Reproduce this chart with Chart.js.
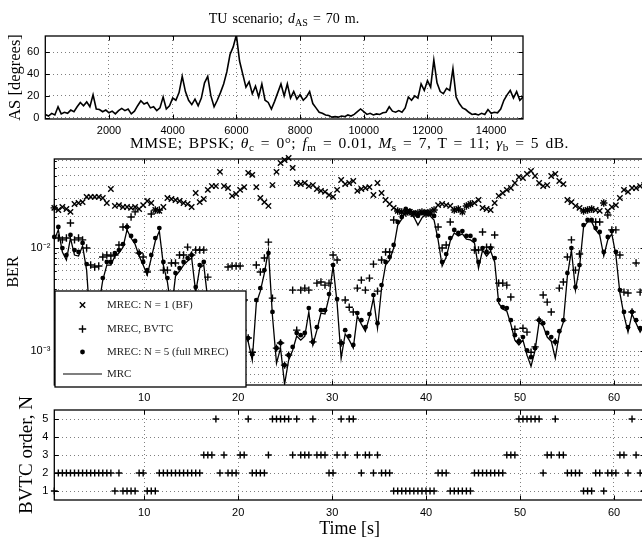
<!DOCTYPE html>
<html><head><meta charset="utf-8">
<script src="https://cdn.jsdelivr.net/npm/chart.js@4.4.1/dist/chart.umd.min.js"></script>
<style>
html,body{margin:0;padding:0;width:642px;height:540px;overflow:hidden;background:#fff;}
canvas{position:absolute;left:0;}
.ttl{position:absolute;text-align:center;font-family:'Liberation Serif',serif;color:#000;white-space:nowrap;}
.ttl .s{font-size:0.72em;position:relative;top:0.25em;}
</style></head><body>
<canvas id="cA" width="560" height="140" style="top:0"></canvas>
<canvas id="cB" width="700" height="270" style="top:140px"></canvas>
<canvas id="cC" width="700" height="160" style="top:380px"></canvas>
<div class="ttl" style="left:45px;width:478px;top:11px;font-size:14px;line-height:16px;word-spacing:1.5px;">TU scenario; <i>d</i><span class="s">AS</span> = 70 m.</div>
<div class="ttl" style="left:54px;width:591px;top:134px;font-size:15.5px;line-height:17px;word-spacing:2px;letter-spacing:0.5px;">MMSE; BPSK; <i>θ</i><span class="s">c</span> = 0°; <i>f</i><span class="s">m</span> = 0.01, <i>M</i><span class="s">s</span> = 7, T = 11; <i>γ</i><span class="s">b</span> = 5 dB.</div>
<script>
// ---------- DATA ----------
// top panel: angular spread [deg] vs sample index
const sampleIndex = [
0,100,200,300,400,500,600,700,800,900,
1000,1100,1200,1300,1400,1500,1600,1700,1800,1900,
2000,2100,2200,2300,2400,2500,2600,2700,2800,2900,
3000,3100,3200,3300,3400,3500,3600,3700,3800,3900,
4000,4100,4200,4300,4400,4500,4600,4700,4800,4900,
5000,5100,5200,5300,5400,5500,5600,5700,5800,5900,
6000,6100,6200,6300,6400,6500,6600,6700,6800,6900,
7000,7100,7200,7300,7400,7500,7600,7700,7800,7900,
8000,8100,8200,8300,8400,8500,8600,8700,8800,8900,
9000,9100,9200,9300,9400,9500,9600,9700,9800,9900,
10000,10100,10200,10300,10400,10500,10600,10700,10800,10900,
11000,11100,11200,11300,11400,11500,11600,11700,11800,11900,
12000,12100,12200,12300,12400,12500,12600,12700,12800,12900,
13000,13100,13200,13300,13400,13500,13600,13700,13800,13900,
14000,14100,14200,14300,14400,14500,14600,14700,14800,14900,15000];
const angularSpread = [
3,1.5,4,2.5,10,3.5,5,4,7,5.5,
10,14,11,14.5,10,21,8,7.5,5.5,7,
4.5,6,3.5,6.5,8.5,6.5,8,3.5,6,11,
15.5,12.5,14,9,10,6.5,9,19,8,11,
18,16,23,38,24,16,12,17,11,18,
32,38,20,10,16,23,31,42,58,65,
76,52,40,28,33,22,29,19,31,16,
14,8,15,23,31,20,31,18,24,17,
21,16,19,24,13,9,5,4,2.5,2,
0.5,1,0.5,1.5,1,2.5,1.5,3,5.5,8,
5.5,3,4,2.5,3.5,3,4.5,5,10,6,
5,6.5,5,9,19,16,20,18,31,25,
34,28,53,32,24,22,27,25,45,19,
13,9,7.5,5,3,3.5,2.5,4,3,7.5,
4,5,4.5,8,16,21,25,18,24,16,19];
const asXTicks = [2000,4000,6000,8000,10000,12000,14000];
const asYTicks = [0,20,40,60];

// middle / bottom panels: time [s]
const timeSec = [
0.43,0.86,1.29,1.72,2.15,2.58,3.01,3.44,3.87,4.30,
4.73,5.16,5.59,6.02,6.45,6.88,7.31,7.74,8.17,8.60,
9.03,9.46,9.89,10.32,10.75,11.18,11.61,12.04,12.47,12.90,
13.33,13.76,14.19,14.62,15.05,15.48,15.91,16.34,16.77,17.20,
17.63,18.06,18.49,18.92,19.35,19.78,20.21,20.64,21.07,21.50,
21.93,22.36,22.79,23.22,23.65,24.08,24.51,24.94,25.37,25.80,
26.23,26.66,27.09,27.52,27.95,28.38,28.81,29.24,29.67,30.10,
30.53,30.96,31.39,31.82,32.25,32.68,33.11,33.54,33.97,34.40,
34.83,35.26,35.69,36.12,36.55,36.98,37.41,37.84,38.27,38.70,
39.13,39.56,39.99,40.42,40.85,41.28,41.71,42.14,42.57,43.00,
43.43,43.86,44.29,44.72,45.15,45.58,46.01,46.44,46.87,47.30,
47.73,48.16,48.59,49.02,49.45,49.88,50.31,50.74,51.17,51.60,
52.03,52.46,52.89,53.32,53.75,54.18,54.61,55.04,55.47,55.90,
56.33,56.76,57.19,57.62,58.05,58.48,58.91,59.34,59.77,60.20,
60.63,61.06,61.49,61.92,62.35,62.78,63.21];
const berBF = [
0.0245,0.0234,0.0250,0.0239,0.0224,0.0267,0.0273,0.0279,0.0313,0.0313,
0.0313,0.0313,0.0306,0.0273,0.0374,0.0256,0.0261,0.0250,0.0250,0.0245,
0.0250,0.0239,0.0261,0.0286,0.0273,0.0234,0.0229,0.0250,0.0306,0.0299,
0.0292,0.0286,0.0273,0.0267,0.0250,0.0342,0.0279,0.0299,0.0366,0.0399,
0.0399,0.0547,0.0399,0.0382,0.0320,0.0334,0.0366,0.0390,0.0535,0.0512,
0.0390,0.0306,0.0279,0.0256,0.0408,0.0547,0.0667,0.0713,0.0746,0.0599,
0.0427,0.0417,0.0427,0.0399,0.0408,0.0374,0.0358,0.0350,0.0327,0.0313,
0.0366,0.0457,0.0417,0.0427,0.0447,0.0358,0.0374,0.0382,0.0390,0.0327,
0.0427,0.0342,0.0292,0.0267,0.0245,0.0229,0.0224,0.0219,0.0224,0.0214,
0.0219,0.0224,0.0214,0.0224,0.0234,0.0261,0.0267,0.0261,0.0256,0.0234,
0.0239,0.0224,0.0256,0.0267,0.0273,0.0292,0.0245,0.0239,0.0234,0.0273,
0.0320,0.0342,0.0366,0.0382,0.0427,0.0489,0.0478,0.0523,0.0559,0.0500,
0.0427,0.0399,0.0408,0.0500,0.0523,0.0447,0.0417,0.0292,0.0279,0.0256,
0.0245,0.0229,0.0234,0.0239,0.0234,0.0229,0.0273,0.0229,0.0250,0.0261,
0.0306,0.0366,0.0350,0.0382,0.0382,0.0399,0.0408];
const berBVTC = [
0.0245,0.0125,0.0120,0.0125,0.0175,0.0120,0.0125,0.0120,0.0100,0.00684,
0.00654,0.00669,0.00818,0.00855,0.00836,0.00855,0.0107,0.0160,0.0160,0.0200,
0.0224,0.00894,0.00818,0.00585,0.0214,0.0234,0.0234,0.00611,0.00611,0.00715,
0.00715,0.00855,0.00855,0.0102,0.00855,0.00956,0.00956,0.00956,0.00523,0.00313,
0.00115,0.00313,0.00313,0.00654,0.00669,0.00669,0.00669,0.00313,0.00134,0.000978,
0.00684,0.00585,0.0080,0.0114,0.00327,0.00107,0.0012,0.000732,0.000915,0.00391,
0.0016,0.00391,0.00409,0.00391,0.00123,0.00457,0.00468,0.00437,0.00457,0.00855,
0.00765,0.0012,0.00313,0.00267,0.0024,0.00409,0.00489,0.00391,0.00511,0.00699,
0.00382,0.00765,0.00915,0.00915,0.0187,0.0229,0.0224,0.0219,0.0224,0.0214,
0.0219,0.0224,0.0214,0.0224,0.0234,0.0160,0.0100,0.0107,0.0179,0.0234,
0.0239,0.0224,0.0256,0.0267,0.00956,0.00956,0.0143,0.0102,0.0102,0.0134,
0.00457,0.00457,0.00437,0.00335,0.00163,0.00125,0.00167,0.00153,0.000978,0.0011,
0.0020,0.0035,0.00299,0.0024,0.00123,0.00409,0.00468,0.00818,0.0120,0.00611,
0.00874,0.0229,0.0234,0.0239,0.0179,0.0179,0.0273,0.0209,0.0150,0.0150,
0.00855,0.00374,0.00366,0.0024,0.00715,0.00374,0.00391];
const berFull = [
0.0128,0.0160,0.0100,0.00855,0.0134,0.00956,0.00915,0.0112,0.00699,0.00313,
0.0016,0.00313,0.00511,0.00732,0.00732,0.00894,0.00956,0.0109,0.0160,0.0131,
0.0117,0.00894,0.00732,0.00611,0.00855,0.0125,0.0156,0.00732,0.00511,0.00313,
0.00572,0.00639,0.00732,0.0080,0.00855,0.00418,0.00684,0.00732,0.0035,0.0016,
0.00115,0.0016,0.0025,0.00313,0.0035,0.00313,0.0025,0.0016,0.00134,0.000935,
0.00313,0.00409,0.00611,0.00894,0.0024,0.00107,0.0012,0.000732,0.000915,0.0011,
0.0015,0.00143,0.0015,0.00262,0.00123,0.00171,0.0025,0.0025,0.00358,0.00684,
0.0032,0.0012,0.0016,0.0014,0.00115,0.00234,0.0020,0.00171,0.00229,0.0035,
0.00187,0.00437,0.00732,0.00818,0.0107,0.0179,0.0200,0.0239,0.0229,0.0219,
0.0205,0.0219,0.0224,0.0214,0.0205,0.0131,0.00732,0.00874,0.0125,0.0150,
0.0140,0.0146,0.0131,0.0131,0.0120,0.00732,0.0100,0.00915,0.0100,0.0080,
0.00313,0.00267,0.00262,0.0020,0.00143,0.00125,0.00137,0.00102,0.000874,0.00107,
0.0020,0.00187,0.0015,0.00137,0.00123,0.00156,0.0020,0.00572,0.0100,0.00418,
0.00684,0.0167,0.0187,0.0187,0.0156,0.0143,0.00915,0.0128,0.0146,0.00915,
0.00391,0.0024,0.00171,0.0024,0.0020,0.00167,0.0020];
const berMRC = [
0.0120,0.0150,0.00915,0.00765,0.0125,0.00855,0.00836,0.0105,0.00611,0.0016,
0.00128,0.00279,0.00489,0.00684,0.00684,0.00836,0.00894,0.0102,0.0150,0.0125,
0.0109,0.00836,0.00684,0.00547,0.0080,0.0117,0.0146,0.00684,0.00468,0.0025,
0.00535,0.00598,0.00684,0.00748,0.0080,0.00374,0.00639,0.00684,0.00313,0.0016,
0.00107,0.0015,0.00234,0.00292,0.00327,0.00292,0.00234,0.0015,0.00123,0.000818,
0.00292,0.00382,0.00572,0.00956,0.00219,0.000765,0.00107,0.000478,0.000818,0.00102,
0.0014,0.00128,0.0014,0.0024,0.00115,0.0016,0.00234,0.00229,0.00335,0.00669,
0.00292,0.000855,0.00147,0.00128,0.00107,0.00219,0.00183,0.00156,0.00214,0.00327,
0.00167,0.00409,0.00684,0.00765,0.0100,0.0167,0.0191,0.0224,0.0214,0.0200,
0.0167,0.0196,0.0214,0.0205,0.0187,0.0120,0.00669,0.00818,0.0117,0.0140,
0.0131,0.0137,0.0122,0.0120,0.0112,0.00639,0.00956,0.00836,0.00935,0.00732,
0.00292,0.00256,0.00245,0.00183,0.00128,0.00115,0.00128,0.000915,0.000715,0.00102,
0.00191,0.00175,0.00137,0.00125,0.000855,0.00147,0.00191,0.00535,0.00956,0.00391,
0.00654,0.0160,0.0179,0.0179,0.0150,0.0134,0.00836,0.0120,0.0137,0.00855,
0.00366,0.00224,0.00153,0.00229,0.00187,0.00153,0.00179];
const bvtcOrder = [
1,2,2,2,2,2,2,2,2,2,
2,2,2,2,2,1,2,1,1,1,
1,2,2,1,1,1,2,2,2,2,
2,2,2,2,2,2,2,3,3,3,
5,2,3,2,2,2,3,3,5,2,
2,2,2,3,5,5,5,5,5,3,
5,3,3,3,5,3,3,3,2,2,
3,5,3,5,5,3,2,3,3,2,
3,2,2,2,1,1,1,1,1,1,
1,1,1,1,1,2,2,2,1,1,
1,1,1,1,2,2,2,2,2,2,
2,2,3,3,3,5,5,5,5,5,
5,2,3,3,5,3,3,2,2,2,
2,1,1,1,2,2,1,2,2,2,
3,3,2,5,3,2,1];
const timeTicks = [10,20,30,40,50,60];
const berTicks = [5e-4,6e-4,7e-4,8e-4,9e-4,1e-3,2e-3,3e-3,4e-3,5e-3,6e-3,7e-3,8e-3,9e-3,1e-2,2e-2,3e-2,4e-2,5e-2,6e-2,7e-2];
const berLabels = {'0.001':'10\u207B\u00B3','0.01':'10\u207B\u00B2'};
const orderTicks = [1,2,3,4,5];
const legendLabels = ['MREC: N = 1 (BF)','MREC, BVTC','MREC: N = 5 (full MREC)','MRC'];

// ---------- STYLE ----------
const SANS = "'Liberation Sans', Arial, sans-serif";
const SERIF = "'Liberation Serif', 'Times New Roman', serif";
Chart.defaults.font.family = SANS;
Chart.defaults.font.size = 11;
Chart.defaults.color = '#000';
const gridColor = 'rgba(0,0,0,0.5)';

function setTicks(list){ return s => { s.ticks = list.map(v => ({value: v})); }; }
function isDecade(v){ const l = Math.log10(v); return Math.abs(l - Math.round(l)) < 1e-6; }

const framePlugin = {
  id: 'frame',
  afterDatasetsDraw(chart, args, opts) {
    const {ctx, chartArea: a} = chart;
    const xs = chart.scales.x, ys = chart.scales.y;
    ctx.save();
    ctx.strokeStyle = '#000';
    ctx.lineWidth = 1;
    ctx.beginPath();
    xs.ticks.forEach(t => {
      const p = Math.round(xs.getPixelForValue(t.value)) + 0.5;
      ctx.moveTo(p, a.bottom); ctx.lineTo(p, a.bottom - 4.5);
      ctx.moveTo(p, a.top); ctx.lineTo(p, a.top + 4.5);
    });
    ys.ticks.forEach(t => {
      const p = Math.round(ys.getPixelForValue(t.value)) + 0.5;
      const L = (opts.log && !isDecade(t.value)) ? 2.5 : 4.5;
      ctx.moveTo(a.left, p); ctx.lineTo(a.left + L, p);
      ctx.moveTo(a.right, p); ctx.lineTo(a.right - L, p);
    });
    ctx.stroke();
    ctx.lineWidth = 1.3;
    ctx.strokeRect(a.left, a.top, a.right - a.left, a.bottom - a.top);
    if (opts.legend) drawLegend(ctx, a);
    ctx.restore();
  }
};

function drawLegend(ctx, a) {
  const L = a.left + 0.7, T = a.top + 132, W = 191, H = 96;
  ctx.fillStyle = '#fff';
  ctx.fillRect(L, T, W, H);
  ctx.strokeStyle = '#000';
  ctx.lineWidth = 1.3;
  ctx.strokeRect(L, T, W, H);
  ctx.lineWidth = 1.4;
  const mx = L + 27.5;
  const rows = [T + 14, T + 38, T + 61, T + 83];
  ctx.beginPath();
  ctx.moveTo(mx - 2.7, rows[0] - 2.7); ctx.lineTo(mx + 2.7, rows[0] + 2.7);
  ctx.moveTo(mx - 2.7, rows[0] + 2.7); ctx.lineTo(mx + 2.7, rows[0] - 2.7);
  ctx.moveTo(mx - 3.7, rows[1]); ctx.lineTo(mx + 3.7, rows[1]);
  ctx.moveTo(mx, rows[1] - 3.7); ctx.lineTo(mx, rows[1] + 3.7);
  ctx.stroke();
  ctx.lineWidth = 1.2;
  ctx.beginPath();
  ctx.moveTo(L + 8, rows[3]); ctx.lineTo(L + 47, rows[3]);
  ctx.stroke();
  ctx.fillStyle = '#000';
  ctx.beginPath(); ctx.arc(mx, rows[2], 2.4, 0, Math.PI * 2); ctx.fill();
  ctx.font = "11px " + SERIF;
  ctx.textBaseline = 'middle';
  ctx.textAlign = 'left';
  ctx.fillStyle = '#222';
  legendLabels.forEach((s, i) => ctx.fillText(s, L + 52, rows[i]));
}

const baseGrid = {color: gridColor, drawTicks: false, lineWidth: 1};
const baseBorder = {display: false, dash: [1, 3]};
const commonOpts = {responsive: false, animation: false, devicePixelRatio: 1, events: []};

// ---------- TOP PANEL ----------
new Chart(document.getElementById('cA'), {
  type: 'line',
  data: {datasets: [{data: sampleIndex.map((s, i) => ({x: s, y: angularSpread[i]})),
    borderColor: '#000', borderWidth: 1.6, pointRadius: 0, tension: 0}]},
  options: Object.assign({}, commonOpts, {
    layout: {padding: {left: 0, right: 37, top: 36, bottom: 0}},
    plugins: {legend: {display: false}, tooltip: {enabled: false}, frame: {}},
    scales: {
      x: {type: 'linear', min: 0, max: 15000, afterBuildTicks: setTicks(asXTicks),
          afterFit: s => { s.height = 21; }, grid: baseGrid, border: baseBorder,
          ticks: {padding: 5, maxRotation: 0, autoSkip: false, callback: v => String(v)}},
      y: {min: -1.2, max: 75, afterBuildTicks: setTicks(asYTicks),
          afterFit: s => { s.width = 45.3; }, grid: baseGrid, border: baseBorder,
          ticks: {padding: 6, callback: v => String(v)},
          title: {display: true, text: 'AS [degrees]', font: {family: SERIF, size: 16.5}, padding: {top: 5.6, bottom: 0}}}
    }
  }),
  plugins: [framePlugin]
});

// ---------- MIDDLE PANEL ----------
const pts = arr => timeSec.map((t, i) => ({x: t, y: arr[i]}));
new Chart(document.getElementById('cB'), {
  type: 'scatter',
  data: {datasets: [
    {label: legendLabels[0], data: pts(berBF), pointStyle: 'crossRot', pointRadius: 3.8, borderColor: '#000', borderWidth: 1.4, clip: false},
    {label: legendLabels[1], data: pts(berBVTC), pointStyle: 'cross', pointRadius: 3.7, borderColor: '#000', borderWidth: 1.4, clip: false},
    {label: legendLabels[2], data: pts(berFull), pointStyle: 'circle', pointRadius: 2.4, backgroundColor: '#000', borderColor: '#000', borderWidth: 0, clip: false},
    {label: legendLabels[3], data: pts(berMRC), showLine: true, pointRadius: 0, borderColor: '#000', borderWidth: 1.3, tension: 0}
  ]},
  options: Object.assign({}, commonOpts, {
    layout: {padding: {left: 0, right: 55, top: 19, bottom: 0}},
    plugins: {legend: {display: false}, tooltip: {enabled: false}, frame: {log: true, legend: true}},
    scales: {
      x: {type: 'linear', min: 0.43, max: 63.3, afterBuildTicks: setTicks(timeTicks),
          afterFit: s => { s.height = 25; }, grid: baseGrid, border: baseBorder,
          ticks: {padding: 6, maxRotation: 0, autoSkip: false, callback: v => String(v)}},
      y: {type: 'logarithmic', min: 4.7e-4, max: 7.3e-2, afterBuildTicks: setTicks(berTicks),
          afterFit: s => { s.width = 54.3; }, grid: baseGrid, border: baseBorder,
          ticks: {padding: 4, autoSkip: false, callback: v => berLabels[String(+v.toPrecision(3))] || ''},
          title: {display: true, text: 'BER', font: {family: SERIF, size: 16}, padding: {top: 4, bottom: 0}}}
    }
  }),
  plugins: [framePlugin]
});

// ---------- BOTTOM PANEL ----------
new Chart(document.getElementById('cC'), {
  type: 'scatter',
  data: {datasets: [
    {label: 'BVTC order', data: timeSec.map((t, i) => ({x: t, y: bvtcOrder[i]})), pointStyle: 'cross', pointRadius: 3.4, borderColor: '#000', borderWidth: 1.4, clip: false}
  ]},
  options: Object.assign({}, commonOpts, {
    layout: {padding: {left: 0, right: 55, top: 30, bottom: 0}},
    plugins: {legend: {display: false}, tooltip: {enabled: false}, frame: {}},
    scales: {
      x: {type: 'linear', min: 0.43, max: 63.3, afterBuildTicks: setTicks(timeTicks),
          afterFit: s => { s.height = 40; }, grid: baseGrid, border: baseBorder,
          ticks: {padding: 6, maxRotation: 0, autoSkip: false, callback: v => String(v)},
          title: {display: true, text: 'Time [s]', font: {family: SERIF, size: 18}, padding: {top: 0, bottom: 0.2}}},
      y: {min: 0.5, max: 5.5, afterBuildTicks: setTicks(orderTicks),
          afterFit: s => { s.width = 54.3; }, grid: baseGrid, border: baseBorder,
          ticks: {padding: 6, callback: v => String(v)},
          title: {display: true, text: 'BVTC order, N', font: {family: SERIF, size: 19}, padding: {top: 15.5, bottom: 0}}}
    }
  }),
  plugins: [framePlugin]
});
</script>
</body></html>
